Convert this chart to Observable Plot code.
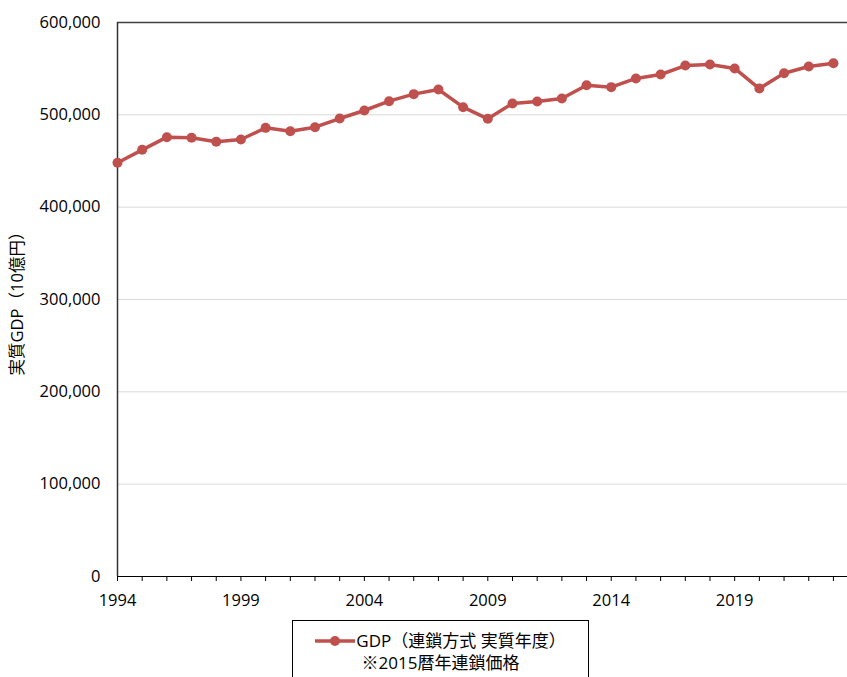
<!DOCTYPE html>
<html>
<head>
<meta charset="utf-8">
<script src="https://cdn.jsdelivr.net/npm/d3@7"></script>
<script src="https://cdn.jsdelivr.net/npm/@observablehq/plot@0.6"></script>
<style>
  html, body { margin: 0; padding: 0; background: #fff; }
  body { width: 847px; height: 677px; position: relative; overflow: hidden; font-family: "Open Sans", "Noto Sans CJK JP", sans-serif; }
  #legend { position: absolute; left: 292px; top: 620px; width: 297px; height: 80px; border: 1px solid #000; box-sizing: border-box; text-align: center; font-size: 17px; color: #000; line-height: 22px; padding-top: 9px; }
  #legend svg { vertical-align: middle; margin-right: 1px; position: relative; top: -1px; }
</style>
</head>
<body>
<div id="chart"></div>
<div id="legend"><div><svg width="40" height="12"><line x1="0" y1="6" x2="40" y2="6" stroke="#c0504d" stroke-width="3.5"/><circle cx="20" cy="6" r="5" fill="#c0504d"/></svg>GDP（連鎖方式 実質年度）</div><div>※2015暦年連鎖価格</div></div>
<script>
const years = d3.range(1994, 2024);
const gdp = [448.1, 462.1, 475.8, 475.1, 470.8, 473.3, 485.9, 482.3, 486.6, 496.0,
             504.7, 514.8, 522.4, 527.4, 508.3, 495.7, 512.3, 514.4, 517.7, 532.1,
             530.0, 539.4, 543.7, 553.4, 554.5, 550.2, 528.5, 545.1, 552.3, 555.9];
const yTicks = [0, 100000, 200000, 300000, 400000, 500000, 600000];
const xLabelYears = [1994, 1999, 2004, 2009, 2014, 2019];

const data = years.map((y, i) => ({year: y, value: gdp[i] * 1000}));
const red = "#c0504d";

const chart = Plot.plot({
  width: 847,
  height: 615,
  marginLeft: 117,
  marginRight: 0,
  marginTop: 22,
  marginBottom: 39,
  style: {fontFamily: "'Open Sans', 'Noto Sans CJK JP', sans-serif", fontSize: "16.5px", color: "#000", background: "#fff"},
  x: {domain: [1994, 2023.57]},
  y: {domain: [0, 600000]},
  marks: [
    Plot.gridY(yTicks, {stroke: "#d9d9d9", strokeOpacity: 1, strokeWidth: 1}),
    Plot.axisY({ticks: yTicks, tickSize: 0, tickPadding: 17, tickFormat: d3.format(","),
      label: "実質GDP（10億円）", labelAnchor: "center", labelArrow: "none", labelOffset: 106,
      fontSize: 16.5}),
    Plot.axisX({ticks: years, tickSize: 5, tickPadding: 13, stroke: "#000",
      tickFormat: d => xLabelYears.includes(d) ? String(d) : "", label: null, fontSize: 16.5}),
    Plot.ruleY([600000], {stroke: "#404040", strokeWidth: 1.5}),
    Plot.ruleX([1994], {stroke: "#333", strokeWidth: 1.5}),
    Plot.ruleY([0], {stroke: "#000", strokeWidth: 1}),
    Plot.line(data, {x: "year", y: "value", stroke: red, strokeWidth: 3.5}),
    Plot.dot(data, {x: "year", y: "value", r: 5, fill: red, stroke: "none"})
  ]
});
document.getElementById("chart").appendChild(chart);
</script>
</body>
</html>
